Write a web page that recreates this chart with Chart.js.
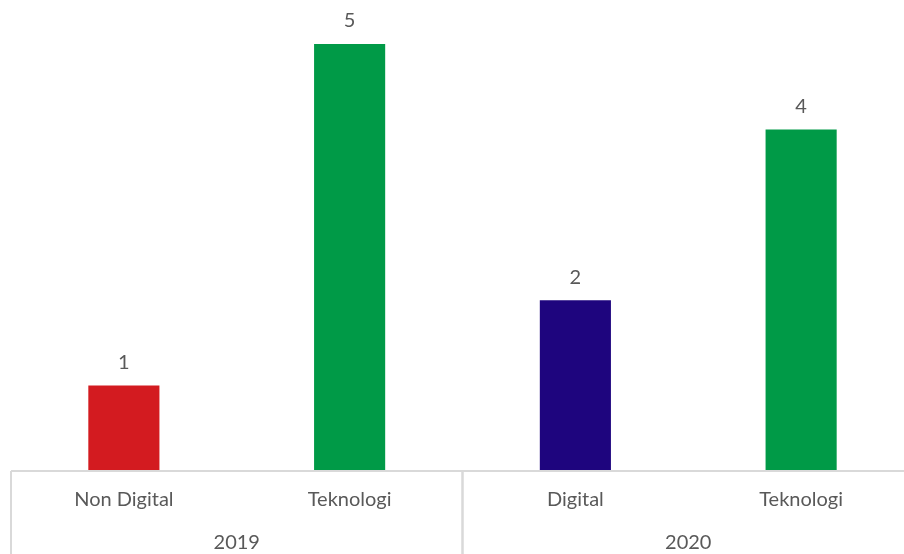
<!DOCTYPE html>
<html>
<head>
<meta charset="utf-8">
<script src="https://cdn.jsdelivr.net/npm/chart.js@4/dist/chart.umd.min.js"></script>
<style>
    html, body { margin: 0; padding: 0; background: #ffffff; overflow: hidden; }
    #wrap { position: relative; width: 914px; height: 554px; }
</style>
</head>
<body>
<div id="wrap"><canvas id="chart"></canvas></div>
<script>
// Jumlah per kategori, dikelompokkan per tahun
const categories = ['Non Digital', 'Teknologi', 'Digital', 'Teknologi'];
const years = ['2019', '2019', '2020', '2020'];
const values = [1, 5, 2, 4];
const barColors = ['#D31B20', '#009A47', '#1E057E', '#009A47'];

const FONT = 'Lato, "Open Sans", sans-serif';
const TEXT_COLOR = '#595959';
const LINE_COLOR = '#d9d9d9';

// Draws value labels above bars and the two-level category axis
const axisPlugin = {
    id: 'twoLevelAxis',
    afterDatasetsDraw(chart) {
        const ctx = chart.ctx;
        const area = chart.chartArea;
        const xScale = chart.scales.x;
        const meta = chart.getDatasetMeta(0);
        const step = xScale.getPixelForValue(1) - xScale.getPixelForValue(0);

        ctx.save();
        ctx.fillStyle = TEXT_COLOR;
        ctx.textAlign = 'center';
        ctx.textBaseline = 'middle';
        ctx.font = '20px ' + FONT;

        // value labels
        meta.data.forEach((bar, i) => {
            ctx.fillText(String(values[i]), bar.x, bar.y - 23);
        });

        // axis line
        ctx.strokeStyle = LINE_COLOR;
        ctx.lineWidth = 2;
        ctx.beginPath();
        ctx.moveTo(area.left, area.bottom);
        ctx.lineTo(area.right, area.bottom);
        ctx.stroke();

        // category labels
        categories.forEach((c, i) => {
            ctx.fillText(c, xScale.getPixelForValue(i), area.bottom + 29);
        });

        // group separators and year labels
        const groups = [];
        years.forEach((y, i) => {
            const last = groups[groups.length - 1];
            if (last && last.name === y) last.end = i;
            else groups.push({ name: y, start: i, end: i });
        });
        groups.forEach((g) => {
            const x0 = xScale.getPixelForValue(g.start) - step / 2;
            const x1 = xScale.getPixelForValue(g.end) + step / 2;
            ctx.beginPath();
            ctx.moveTo(x0, area.bottom);
            ctx.lineTo(x0, chart.height);
            ctx.moveTo(x1, area.bottom);
            ctx.lineTo(x1, chart.height);
            ctx.stroke();
            ctx.fillText(g.name, (x0 + x1) / 2, area.bottom + 72);
        });
        ctx.restore();
    },
};

new Chart(document.getElementById('chart'), {
    type: 'bar',
    data: {
        labels: categories,
        datasets: [
            {
                data: values,
                backgroundColor: barColors,
                borderWidth: 0,
                barPercentage: 0.315,
                categoryPercentage: 1,
            },
        ],
    },
    options: {
        responsive: true,
        maintainAspectRatio: false,
        animation: false,
        layout: { padding: { left: 11, right: 0, top: 44, bottom: 83 } },
        plugins: {
            legend: { display: false },
            tooltip: { enabled: false },
        },
        scales: {
            x: { display: false },
            y: { display: false, min: 0, max: 5 },
        },
    },
    plugins: [axisPlugin],
});
</script>
</body>
</html>
